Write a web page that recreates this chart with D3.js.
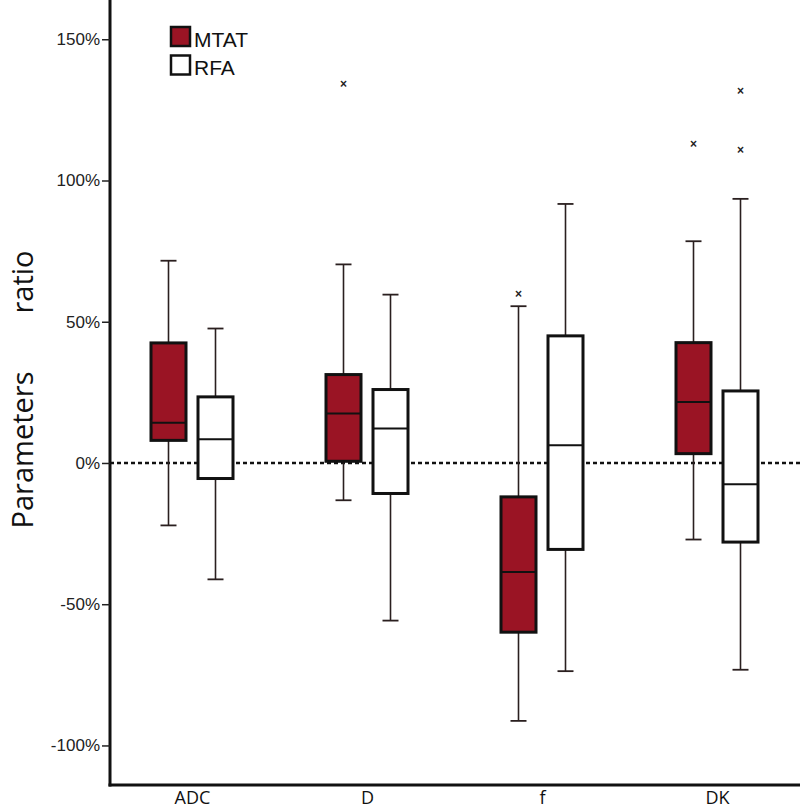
<!DOCTYPE html>
<html>
<head>
<meta charset="utf-8">
<script src="https://cdn.jsdelivr.net/npm/d3@7"></script>
<style>
  html, body { margin: 0; padding: 0; background: #fff; }
  svg { display: block; }
</style>
</head>
<body>
<svg id="chart" width="800" height="808"></svg>
<script>
// ---- Data ----
const categories = ["ADC", "D", "f", "DK"];
const groups = ["MTAT", "RFA"];
// [lowerWhisker, Q1, median, Q3, upperWhisker] in %
const mtatStats = [
  [-22.1, 8.0, 14.2, 42.5, 71.6],
  [-13.2, 0.6, 17.5, 31.3, 70.3],
  [-91.3, -59.9, -38.6, -12.0, 55.5],
  [-27.1, 3.3, 21.6, 42.6, 78.5]
];
const rfaStats = [
  [-41.2, -5.5, 8.4, 23.4, 47.6],
  [-55.8, -10.8, 12.2, 26.0, 59.6],
  [-73.7, -30.6, 6.3, 45.0, 91.7],
  [-73.2, -28.0, -7.5, 25.5, 93.5]
];
const mtatOutliers = [[], [134.1], [59.8], [112.9]];
const rfaOutliers = [[], [], [], [131.7, 110.8]];
const yTicks = [-100, -50, 0, 50, 100, 150];

// ---- Layout ----
const svg = d3.select("#chart");
const axisX = 110, axisBottom = 785, plotRight = 800;
const y = d3.scaleLinear().domain([-114.0, 163.9]).range([axisBottom, 0]);
const x = d3.scalePoint().domain(categories).range([192, 717]);
const sub = d3.scalePoint().domain(groups).range([-23.5, 23.5]);
const boxW = 35, capW = 16;
const fills = { MTAT: "#9a1424", RFA: "#ffffff" };

// zero reference line
svg.append("line")
  .attr("x1", axisX).attr("x2", plotRight)
  .attr("y1", y(0)).attr("y2", y(0))
  .attr("stroke", "#111").attr("stroke-width", 2.5)
  .attr("stroke-dasharray", "4,3");

// boxes
const series = [
  { name: "MTAT", stats: mtatStats, outliers: mtatOutliers },
  { name: "RFA", stats: rfaStats, outliers: rfaOutliers }
];

series.forEach(s => {
  categories.forEach((c, i) => {
    const [lo, q1, med, q3, hi] = s.stats[i];
    const cx = x(c) + sub(s.name);
    const g = svg.append("g");
    g.append("line").attr("x1", cx).attr("x2", cx)
      .attr("y1", y(hi)).attr("y2", y(q3))
      .attr("stroke", "#2a1f1f").attr("stroke-width", 1.6);
    g.append("line").attr("x1", cx).attr("x2", cx)
      .attr("y1", y(q1)).attr("y2", y(lo))
      .attr("stroke", "#2a1f1f").attr("stroke-width", 1.6);
    [hi, lo].forEach(v => {
      g.append("line").attr("x1", cx - capW / 2).attr("x2", cx + capW / 2)
        .attr("y1", y(v)).attr("y2", y(v))
        .attr("stroke", "#2a1f1f").attr("stroke-width", 1.8);
    });
    g.append("rect")
      .attr("x", cx - boxW / 2).attr("width", boxW)
      .attr("y", y(q3)).attr("height", y(q1) - y(q3))
      .attr("fill", fills[s.name])
      .attr("stroke", "#111").attr("stroke-width", 3);
    g.append("line").attr("x1", cx - boxW / 2).attr("x2", cx + boxW / 2)
      .attr("y1", y(med)).attr("y2", y(med))
      .attr("stroke", "#111").attr("stroke-width", 2);
    s.outliers[i].forEach(v => {
      g.append("text")
        .attr("x", cx).attr("y", y(v))
        .attr("text-anchor", "middle").attr("dominant-baseline", "central")
        .attr("font-family", "Liberation Sans, Arial, sans-serif")
        .attr("font-size", 12).attr("font-weight", "bold")
        .attr("fill", "#222")
        .text("×");
    });
  });
});

// axes lines
svg.append("line").attr("x1", axisX).attr("x2", axisX)
  .attr("y1", 0).attr("y2", axisBottom + 1.5)
  .attr("stroke", "#111").attr("stroke-width", 3);
svg.append("line").attr("x1", axisX - 1.5).attr("x2", plotRight)
  .attr("y1", axisBottom).attr("y2", axisBottom)
  .attr("stroke", "#111").attr("stroke-width", 3);

// y ticks
const yAxis = d3.axisLeft(y).tickValues(yTicks).tickSize(8).tickPadding(2)
  .tickFormat(d => d + "%");
const yg = svg.append("g").attr("transform", `translate(${axisX},0)`).call(yAxis);
yg.select(".domain").remove();
yg.selectAll(".tick line").attr("stroke", "#222").attr("stroke-width", 1.5);
yg.selectAll(".tick text")
  .attr("font-family", "Liberation Sans, Arial, sans-serif")
  .attr("font-size", 17).attr("fill", "#222");

// x labels
const xAxis = d3.axisBottom(x).tickSize(0).tickPadding(6);
const xg = svg.append("g").attr("transform", `translate(0,${axisBottom})`).call(xAxis);
xg.select(".domain").remove();
xg.selectAll(".tick text")
  .attr("font-family", "Open Sans, Noto Sans, sans-serif")
  .attr("font-size", 18).attr("fill", "#111");

// y title
const titleFont = "Open Sans, Noto Sans, sans-serif";
svg.append("text")
  .attr("transform", "translate(33,450) rotate(-90)")
  .attr("text-anchor", "middle")
  .attr("font-family", titleFont).attr("font-size", 29).attr("fill", "#111")
  .text("Parameters");
svg.append("text")
  .attr("transform", "translate(33,282) rotate(-90)")
  .attr("text-anchor", "middle")
  .attr("font-family", titleFont).attr("font-size", 29).attr("fill", "#111")
  .text("ratio");

// legend
const legend = svg.append("g");
groups.forEach((gname, i) => {
  const ly = 27 + i * 28.5;
  legend.append("rect")
    .attr("x", 171).attr("y", ly).attr("width", 19).attr("height", 19)
    .attr("fill", fills[gname]).attr("stroke", "#111").attr("stroke-width", 2.5);
  legend.append("text")
    .attr("x", 194).attr("y", ly + 19.5)
    .attr("font-family", "Liberation Sans, Arial, sans-serif")
    .attr("font-size", 21).attr("fill", "#111")
    .text(gname);
});
</script>
</body>
</html>
